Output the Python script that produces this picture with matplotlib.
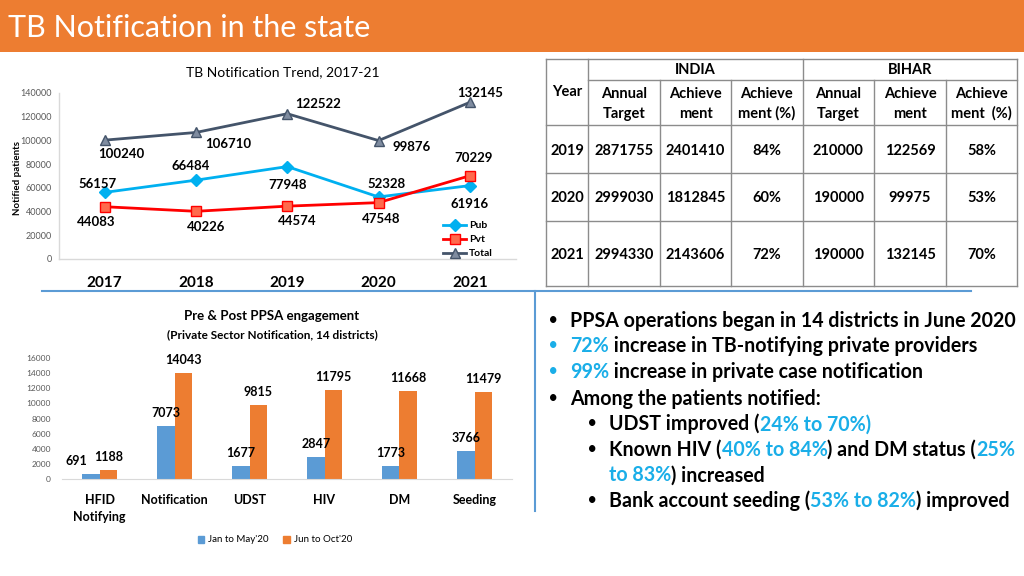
import matplotlib
matplotlib.use('Agg')
import numpy as np
import matplotlib.pyplot as plt
from matplotlib.lines import Line2D
from matplotlib.patches import Rectangle, Patch

plt.rcParams['font.family'] = ['Lato', 'DejaVu Sans']

# ---------------- data ----------------
years = ['2017', '2018', '2019', '2020', '2021']
pub = [56157, 66484, 77948, 52328, 61916]
pvt = [44083, 40226, 44574, 47548, 70229]
total = [100240, 106710, 122522, 99876, 132145]

ppsa_categories = ['HFID\nNotifying', 'Notification', 'UDST', 'HIV', 'DM', 'Seeding']
pre_ppsa = [691, 7073, 1677, 2847, 1773, 3766]
post_ppsa = [1188, 14043, 9815, 11795, 11668, 11479]

table_years = ['2019', '2020', '2021']
india_target = [2871755, 2999030, 2994330]
india_achieved = [2401410, 1812845, 2143606]
india_pct = ['84%', '60%', '72%']
bihar_target = [210000, 190000, 190000]
bihar_achieved = [122569, 99975, 132145]
bihar_pct = ['58%', '53%', '70%']

CYAN = '#1AAEE8'
bullet_lines = [
    ('main', [("PPSA operations began in 14 districts in June 2020", 'black')], 'black'),
    ('main', [("72%", CYAN), (" increase in TB-notifying private providers", 'black')], CYAN),
    ('main', [("99%", CYAN), (" increase in private case notification", 'black')], CYAN),
    ('main', [("Among the patients notified:", 'black')], 'black'),
    ('sub', [("UDST improved (", 'black'), ("24% to 70%)", CYAN)], 'black'),
    ('sub', [("Known HIV (", 'black'), ("40% to 84%", CYAN), (") and DM status (", 'black'), ("25%", CYAN)], 'black'),
    ('cont', [("to 83%", CYAN), (") increased", 'black')], None),
    ('sub', [("Bank account seeding (", 'black'), ("53% to 82%", CYAN), (") improved", 'black')], 'black'),
]

# ---------------- figure ----------------
W, H = 1024, 576
fig = plt.figure(figsize=(W / 100, H / 100), dpi=100)
fig.patch.set_facecolor('white')


def fx(x):
    return x / W


def fy(y):
    return 1 - y / H


# title bar
fig.add_artist(Rectangle((0, fy(52)), 1, 52 / H, transform=fig.transFigure,
                         facecolor='#ED7D31', edgecolor='none', zorder=0))
fig.text(fx(8), fy(28), 'TB Notification in the state', color='white',
         fontsize=22, ha='left', va='center')

GRAY = '#595959'

# ---------------- top-left line chart ----------------
ax1 = fig.add_axes([fx(59), fy(259), (515.5 - 59) / W, (259 - 93) / H])
xs = np.arange(len(years))
ax1.plot(xs, pub, color='#00B0F0', marker='D', ms=6, lw=2, label='Pub')
ax1.plot(xs, pvt, color='#FF0000', marker='s', ms=6.5, mfc='#FF6A4D', mec='#FF0000', lw=2, label='Pvt')
ax1.plot(xs, total, color='#44546A', marker='^', ms=7, mfc='#7F8CA0', mec='#44546A', lw=2, label='Total')
ax1.set_xlim(-0.5, 4.5)
ax1.set_ylim(0, 140000)
ax1.set_yticks(np.arange(0, 140001, 20000))
ax1.set_yticklabels([str(v) for v in range(0, 140001, 20000)], fontsize=6.5, color=GRAY)
ax1.set_xticks(xs)
ax1.set_xticklabels(years, fontsize=11, fontweight='bold')
ax1.tick_params(axis='both', length=0)
ax1.tick_params(axis='x', pad=12)
ax1.tick_params(axis='y', pad=5)
for s in ['top', 'right']:
    ax1.spines[s].set_visible(False)
for s in ['left', 'bottom']:
    ax1.spines[s].set_color('#D9D9D9')
    ax1.spines[s].set_linewidth(1)

total_off = [(17, -14), (32, -12), (31, 10), (33, -6), (10, 9)]
pub_off = [(-7, 8), (-5, 14), (0, -18), (8, 13), (0, -18)]
pvt_off = [(-8, -15), (10, -16), (10, -15), (3, -16), (4, 18)]
for series, offs in [(total, total_off), (pub, pub_off), (pvt, pvt_off)]:
    for i, v in enumerate(series):
        ax1.annotate(str(v), (i, v), xytext=offs[i], textcoords='offset pixels',
                     ha='center', va='center', fontsize=9.5, fontweight='bold')

leg1 = ax1.legend(loc='upper left', bbox_to_anchor=(fx(438), fy(216)),
                  bbox_transform=fig.transFigure, frameon=False, fontsize=7.5,
                  handlelength=2.2, labelspacing=0.45, borderpad=0, handletextpad=0.3)
for t in leg1.get_texts():
    t.set_fontweight('bold')

fig.text(fx(18), fy(178), 'Notified patients', rotation=90, fontsize=7,
         fontweight='bold', ha='center', va='center')
fig.text(fx(283), fy(72), 'TB Notification Trend, 2017-21', fontsize=10,
         ha='center', va='center')

# separators
fig.add_artist(Line2D([fx(42), fx(971)], [fy(291), fy(291)], transform=fig.transFigure,
                      color='#5B9BD5', lw=1.5))
fig.add_artist(Line2D([fx(535), fx(535)], [fy(291), fy(511)], transform=fig.transFigure,
                      color='#5B9BD5', lw=1.5))

# ---------------- table ----------------
cols = [546, 588, 660, 731, 802.5, 874, 946, 1017]
rows = [58.5, 80, 125, 173, 221, 286]
LC = '#8C8C8C'


def hline(y, x0, x1):
    fig.add_artist(Line2D([fx(x0), fx(x1)], [fy(y), fy(y)], transform=fig.transFigure, color=LC, lw=1))


def vline(x, y0, y1):
    fig.add_artist(Line2D([fx(x), fx(x)], [fy(y0), fy(y1)], transform=fig.transFigure, color=LC, lw=1))


hline(rows[0], cols[0], cols[-1])
hline(rows[1], cols[1], cols[-1])
for r in rows[2:]:
    hline(r, cols[0], cols[-1])
for c in [cols[0], cols[1], cols[4], cols[7]]:
    vline(c, rows[0], rows[-1])
for c in [cols[2], cols[3], cols[5], cols[6]]:
    vline(c, rows[1], rows[-1])

TS = 10.5
tkw = dict(fontsize=TS, fontweight='bold', ha='center', va='center')
fig.text(fx((cols[1] + cols[4]) / 2), fy(70), 'INDIA', **tkw)
fig.text(fx((cols[4] + cols[7]) / 2), fy(70), 'BIHAR', **tkw)
fig.text(fx((cols[0] + cols[1]) / 2), fy(92), 'Year', **tkw)
hdr_top = ['Annual', 'Achieve', 'Achieve', 'Annual', 'Achieve', 'Achieve']
hdr_bot = ['Target', 'ment', 'ment (%)', 'Target', 'ment', 'ment  (%)']
for j in range(6):
    cx = (cols[j + 1] + cols[j + 2]) / 2
    fig.text(fx(cx), fy(93.6), hdr_top[j], **tkw)
    fig.text(fx(cx), fy(113.8), hdr_bot[j], **tkw)
row_y = [150.8, 198.5, 255.3]
for i in range(3):
    vals = [table_years[i], str(india_target[i]), str(india_achieved[i]), india_pct[i],
            str(bihar_target[i]), str(bihar_achieved[i]), bihar_pct[i]]
    for j, v in enumerate(vals):
        cx = (cols[j] + cols[j + 1]) / 2
        fig.text(fx(cx), fy(row_y[i]), v, **tkw)

# ---------------- bottom-left bar chart ----------------
ax2 = fig.add_axes([fx(62), fy(479), 450 / W, 121 / H])
xb = np.arange(len(ppsa_categories))
bw = 0.235
ax2.bar(xb - bw / 2, pre_ppsa, bw, color='#5B9BD5', label="Jan to May'20")
ax2.bar(xb + bw / 2, post_ppsa, bw, color='#ED7D31', label="Jun to Oct'20")
ax2.set_xlim(-0.5, 5.5)
ax2.set_ylim(0, 16000)
ax2.set_yticks(np.arange(0, 16001, 2000))
ax2.set_yticklabels([str(v) for v in range(0, 16001, 2000)], fontsize=6, color=GRAY)
ax2.set_xticks(xb)
ax2.set_xticklabels(ppsa_categories, fontsize=9, fontweight='bold', linespacing=1.45)
ax2.tick_params(axis='both', length=0)
ax2.tick_params(axis='x', pad=11)
ax2.tick_params(axis='y', pad=8)
for s in ['top', 'right', 'left']:
    ax2.spines[s].set_visible(False)
ax2.spines['bottom'].set_color('#D9D9D9')

for i, v in enumerate(pre_ppsa):
    dx = -14 if i == 0 else 0
    ax2.annotate(str(v), (i - bw / 2, v), xytext=(dx, 13), textcoords='offset pixels',
                 ha='center', va='center', fontsize=9, fontweight='bold')
for i, v in enumerate(post_ppsa):
    ax2.annotate(str(v), (i + bw / 2, v), xytext=(0, 13), textcoords='offset pixels',
                 ha='center', va='center', fontsize=9, fontweight='bold')

fig.text(fx(272), fy(316), 'Pre & Post PPSA engagement', fontsize=9.5,
         fontweight='bold', ha='center', va='center')
fig.text(fx(272), fy(335), '(Private Sector Notification, 14 districts)', fontsize=8.5,
         fontweight='bold', ha='center', va='center')
h2 = [Patch(color='#5B9BD5'), Patch(color='#ED7D31')]
fig.legend(h2, ["Jan to May'20", "Jun to Oct'20"], loc='center',
           bbox_to_anchor=(fx(275), fy(540)), ncol=2, frameon=False, fontsize=7,
           handlelength=0.7, handleheight=0.7, handletextpad=0.4, columnspacing=1.5)

# ---------------- bullet text ----------------
renderer = fig.canvas.get_renderer()


def text_width(s, size):
    t1 = fig.text(0, 0, s + '|', fontsize=size, fontweight='bold')
    t2 = fig.text(0, 0, '|', fontsize=size, fontweight='bold')
    w = t1.get_window_extent(renderer).width - t2.get_window_extent(renderer).width
    t1.remove()
    t2.remove()
    return w


# fit size so first line spans the same width as in the slide
base = 13.0
first = bullet_lines[0][1][0][0]
BS = base * 445 / text_width(first, base)

line_y = [320.2, 345.4, 371.3, 398.2, 423.4, 448.6, 474.1, 500]
for (kind, segs, bcol), yc in zip(bullet_lines, line_y):
    if kind == 'main':
        bx, tx = 553, 570
    else:
        bx, tx = 592, 609
    yb = yc + BS * 1.389 * 0.36
    if bcol is not None:
        fig.text(fx(bx), fy(yc), '•', color=bcol, fontsize=BS * 0.75, fontweight='bold',
                 ha='center', va='center')
    prefix = ''
    for s, c in segs:
        x = tx + text_width(prefix, BS) if prefix else tx
        fig.text(fx(x), fy(yb), s, color=c, fontsize=BS, fontweight='bold',
                 ha='left', va='baseline')
        prefix += s

fig.savefig('out.png', dpi=100)
